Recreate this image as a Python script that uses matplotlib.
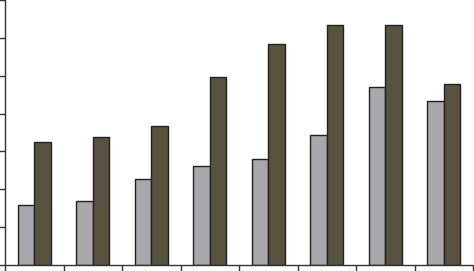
import numpy as np
import matplotlib.pyplot as plt

# values (y units = tick steps)
groups = np.arange(8)
light_vals = [1.58, 1.69, 2.28, 2.61, 2.81, 3.44, 4.70, 4.32]
dark_vals = [3.24, 3.38, 3.68, 4.96, 5.83, 6.34, 6.34, 4.77]
yticks = [0, 1, 2, 3, 4, 5, 6, 7]
xticks = np.arange(9) - 0.5

fig = plt.figure(figsize=(4.74, 2.71), dpi=100)
ax = fig.add_axes([5 / 474, 6 / 271, 468 / 474, 265 / 271])

w = 0.285
ax.bar(groups - w / 2, light_vals, width=w, color='#a7a7ac', edgecolor='#222222', linewidth=1)
ax.bar(groups + w / 2, dark_vals, width=w, color='#57533f', edgecolor='#222222', linewidth=1)

ax.set_xlim(-0.5, 7.5)
ax.set_ylim(0, 7)
ax.set_xticks(xticks)
ax.set_yticks(yticks)
ax.set_xticklabels([])
ax.set_yticklabels([])
ax.tick_params(direction='out', length=5, width=1, color='#333333')
for s in ['top', 'right']:
    ax.spines[s].set_visible(False)
for s in ['left', 'bottom']:
    ax.spines[s].set_color('#333333')
    ax.spines[s].set_linewidth(1)

fig.savefig('out.png', dpi=100)
